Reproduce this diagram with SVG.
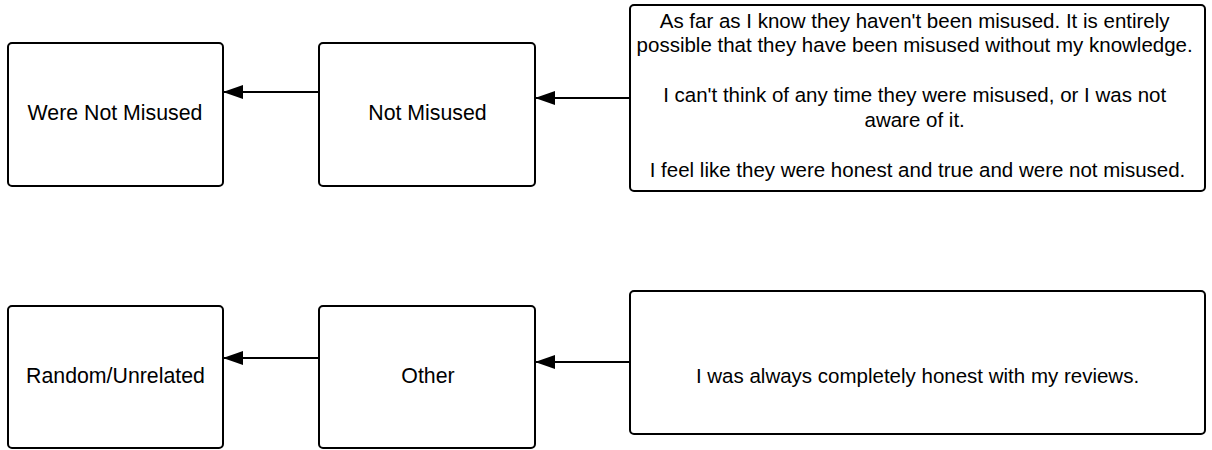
<svg xmlns="http://www.w3.org/2000/svg" width="1212" height="450" viewBox="0 0 1212 450">
<defs>
<style>
.box{fill:#fff;stroke:#000;stroke-width:2}
.t{font-family:"Liberation Sans",Arial,sans-serif;fill:#000;text-anchor:middle}
.s{font-size:21.3px}
.b{font-size:20.5px}
.c{stroke:#000;stroke-width:2;fill:none}
</style>
<marker id="ah" markerUnits="userSpaceOnUse" markerWidth="20" markerHeight="14" refX="20" refY="7" orient="auto">
<path d="M0,0 L20,7 L0,14 Z" fill="#000"/>
</marker>
</defs>
<rect width="1212" height="450" fill="#fff"/>
<g id="connectors">
<path class="c" d="M319,92 L223,92" marker-end="url(#ah)"/>
<path class="c" d="M630,98 L535,98" marker-end="url(#ah)"/>
<path class="c" d="M319,358 L223,358" marker-end="url(#ah)"/>
<path class="c" d="M630,362 L535,362" marker-end="url(#ah)"/>
</g>
<g id="were-not-misused">
<rect class="box" x="8" y="43" width="215" height="143" rx="4"/>
<text class="t s" x="115" y="120">Were Not Misused</text>
</g>
<g id="not-misused">
<rect class="box" x="319" y="43" width="216" height="143" rx="4"/>
<text class="t s" x="427.5" y="119.5">Not Misused</text>
</g>
<g id="quotes-not-misused">
<rect class="box" x="630" y="5" width="575" height="186" rx="4"/>
<text class="t b" x="917.5">
<tspan x="917.5" y="27.5">As far as I know they haven't been misused. It is entirely</tspan>
<tspan x="917.5" y="52">possible that they have been misused without my knowledge.</tspan>
<tspan x="917.5" y="102">I can't think of any time they were misused, or I was not</tspan>
<tspan x="917.5" y="127">aware of it.</tspan>
<tspan x="917.5" y="177">I feel like they were honest and true and were not misused.</tspan>
</text>
</g>
<g id="random-unrelated">
<rect class="box" x="8" y="306" width="215" height="142" rx="4"/>
<text class="t s" x="115.5" y="383">Random/Unrelated</text>
</g>
<g id="other">
<rect class="box" x="319" y="306" width="216" height="142" rx="4"/>
<text class="t s" x="428" y="383">Other</text>
</g>
<g id="quote-other">
<rect class="box" x="630" y="291" width="575" height="143" rx="4"/>
<text class="t b" x="917.5" y="383">I was always completely honest with my reviews.</text>
</g>
</svg>
